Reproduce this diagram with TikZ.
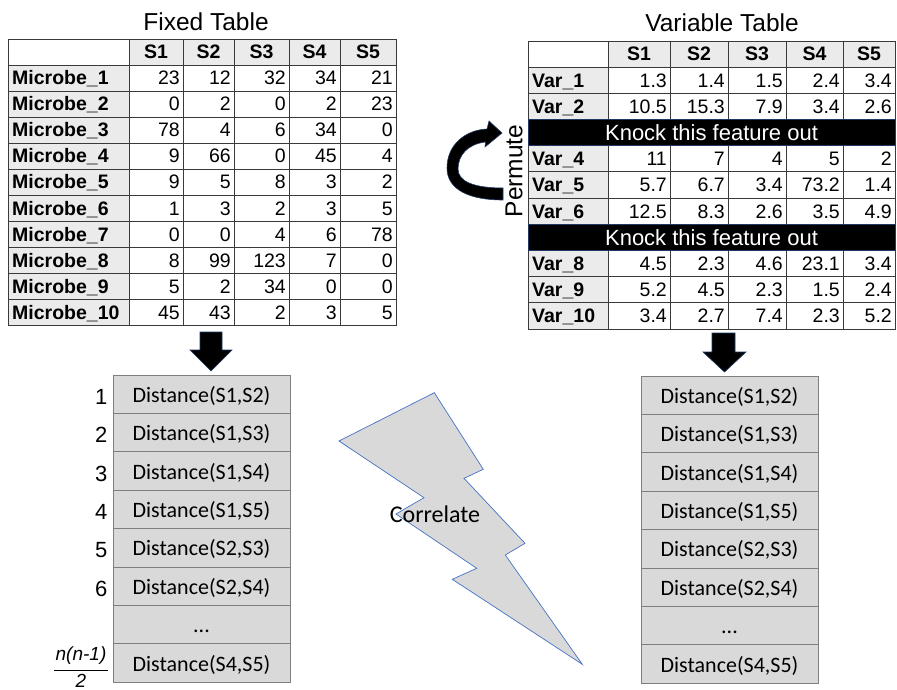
\documentclass[tikz,border=0pt]{standalone}
\usepackage{fontspec}
\newfontfamily\arial{Liberation Sans}
\newfontfamily\calib{Carlito}
\newcommand\mydots{...}
\definecolor{hdr}{HTML}{EBEBEB}
\definecolor{boxg}{HTML}{D9D9D9}
\definecolor{gridc}{HTML}{3A3A3A}
\definecolor{boxedge}{HTML}{7F7F7F}
\definecolor{edgeblue}{HTML}{4472C4}
\definecolor{darkblue}{HTML}{1F3864}
\tikzset{
  gridline/.style={draw=gridc, line width=0.8pt},
  ttitle/.style={font=\arial\fontsize{24.5}{26}\selectfont, inner sep=0pt},
  thdr/.style={font=\arial\bfseries\fontsize{19.5}{20}\selectfont, inner sep=0pt, text height=14pt, text depth=0pt},
  tlab/.style={font=\arial\bfseries\fontsize{19.5}{20}\selectfont, inner sep=0pt, anchor=west, text height=14pt, text depth=0pt},
  tnum/.style={font=\arial\fontsize{19.5}{20}\selectfont, inner sep=0pt, anchor=east, text height=14pt, text depth=0pt},
  knock/.style={fill=black, draw=darkblue, line width=0.8pt, text=white,
    font=\arial\fontsize{22}{24}\selectfont, minimum width=367pt, minimum height=26.2pt, inner sep=0pt,
    text height=16pt, text depth=0pt},
  distbox/.style={fill=boxg, draw=boxedge, line width=0.8pt, minimum width=177pt, minimum height=38.4pt,
    inner sep=0pt, text height=18pt, text depth=2pt, font=\calib\fontsize{22}{24}\selectfont},
  rank/.style={font=\arial\fontsize{22}{24}\selectfont, inner sep=0pt, anchor=east, text height=16pt, text depth=0pt},
  fracpart/.style={font=\arial\itshape\fontsize{19}{20}\selectfont, inner sep=0pt},
  blockarrow/.style={fill=black, draw=darkblue, line width=0.6pt},
  bolt/.style={fill=boxg, draw=edgeblue, line width=0.7pt},
}
\begin{document}
\begin{tikzpicture}[x=1pt,y=-1pt]
\useasboundingbox (0,0) rectangle (897,690);

% ---------- Fixed table ----------
\node[ttitle] (ft) at (206,22) {Fixed Table};
\fill[hdr] (129,39) rectangle (396,65);
\fill[hdr] (8,65) rectangle (129,325);
\foreach \x in {129,183,234,289,340} \draw[gridline] (\x,39) -- (\x,325);
\foreach \k in {0,...,9} \draw[gridline] (8,{65+26*\k}) -- (396,{65+26*\k});
\draw[gridline] (8,39) rectangle (396,325);
\foreach \s/\x in {1/156,2/208.5,3/261.5,4/314.5,5/368}
  \node[thdr] (LH\s) at (\x,52) {S\s};
\foreach \r/\a/\b/\c/\d/\e in {1/23/12/32/34/21, 2/0/2/0/2/23, 3/78/4/6/34/0, 4/9/66/0/45/4,
  5/9/5/8/3/2, 6/1/3/2/3/5, 7/0/0/4/6/78, 8/8/99/123/7/0, 9/5/2/34/0/0, 10/45/43/2/3/5} {
  \pgfmathsetmacro\yc{65+26*(\r-1)+13}
  \node[tlab] (LL\r) at (12,\yc) {Microbe\_\r};
  \node[tnum] (L\r-1) at (180,\yc) {\a};
  \node[tnum] (L\r-2) at (231,\yc) {\b};
  \node[tnum] (L\r-3) at (286,\yc) {\c};
  \node[tnum] (L\r-4) at (337,\yc) {\d};
  \node[tnum] (L\r-5) at (393,\yc) {\e};
}

% ---------- Variable table ----------
\node[ttitle] (vt) at (722,23) {Variable Table};
\fill[hdr] (608,41) rectangle (895,67);
\fill[hdr] (528,67) rectangle (608,329);
\foreach \x in {608,670,728,786,843} \draw[gridline] (\x,41) -- (\x,329);
\foreach \k in {0,...,9} \draw[gridline] (528,{67+26.2*\k}) -- (895,{67+26.2*\k});
\draw[gridline] (528,41) rectangle (895,329);
\foreach \s/\x in {1/639,2/699,3/757,4/814.5,5/869}
  \node[thdr] (RH\s) at (\x,54) {S\s};
\foreach \r/\a/\b/\c/\d/\e in {1/1.3/1.4/1.5/2.4/3.4, 2/10.5/15.3/7.9/3.4/2.6, 4/11/7/4/5/2,
  5/5.7/6.7/3.4/73.2/1.4, 6/12.5/8.3/2.6/3.5/4.9, 8/4.5/2.3/4.6/23.1/3.4,
  9/5.2/4.5/2.3/1.5/2.4, 10/3.4/2.7/7.4/2.3/5.2} {
  \pgfmathsetmacro\yc{67+26.2*(\r-1)+13.1}
  \node[tlab] (RL\r) at (532,\yc) {Var\_\r};
  \node[tnum] (R\r-1) at (667,\yc) {\a};
  \node[tnum] (R\r-2) at (725,\yc) {\b};
  \node[tnum] (R\r-3) at (783,\yc) {\c};
  \node[tnum] (R\r-4) at (840,\yc) {\d};
  \node[tnum] (R\r-5) at (892,\yc) {\e};
}
\node[knock] (K3) at (711.5,{67+26.2*2+13.1}) {Knock this feature out};
\node[knock] (K7) at (711.5,{67+26.2*6+13.1}) {Knock this feature out};

% ---------- Permute ----------
\fill[black, draw=darkblue, line width=0.6pt]
  (503,200) .. controls (470,200) and (447,190) .. (447,168)
  .. controls (447,145) and (465,130) .. (487,129)
  -- (489,121) -- (502,133) -- (485,147) -- (485.5,142)
  .. controls (468,144) and (458,155) .. (458,169)
  .. controls (458,182) and (475,188) .. (503,188) -- cycle;
\node[rotate=90, font=\arial\fontsize{24.5}{26}\selectfont, inner sep=0pt] (perm) at (514,171) {Permute};

% ---------- Block arrows ----------
\draw[blockarrow] (200,332) -- (222,332) -- (222,350) -- (232,350) -- (211,371) -- (190,350) -- (200,350) -- cycle;
\draw[blockarrow] (712,333) -- (735,333) -- (735,352) -- (746,352) -- (724.5,372) -- (703,352) -- (712,352) -- cycle;

% ---------- Distance boxes ----------
\foreach \t [count=\i] in {{Distance(S1,S2)},{Distance(S1,S3)},{Distance(S1,S4)},{Distance(S1,S5)},
  {Distance(S2,S3)},{Distance(S2,S4)},{\mydots},{Distance(S4,S5)}} {
  \node[distbox] (DL\i) at (201.5,{375+38.4*(\i-1)+19.2}) {\t};
  \node[distbox] (DR\i) at (729.5,{376+38.4*(\i-1)+19.2}) {\t};
}
\foreach \i in {1,...,6}
  \node[rank] (N\i) at ([xshift=-5pt,yshift=-2pt]DL\i.west) {\i};
\node[fracpart] (fnum) at (81,656) {n(n-1)};
\node[fracpart] (fden) at (81,681) {2};
\draw[line width=1pt] (54,670) -- (108,670);

% ---------- Correlate bolt ----------
\draw[bolt] (434.3,392.7) -- (483.3,469.3) -- (464,478.3) -- (525,543.3) -- (505.3,555)
  -- (582.3,664.3) -- (452.3,579.3) -- (476.7,568.3) -- (396,514) -- (424,497.7) -- (339,441) -- cycle;
\node[font=\calib\fontsize{24}{26}\selectfont, inner sep=0pt] (corr) at (435,514) {Correlate};
\end{tikzpicture}
\end{document}
